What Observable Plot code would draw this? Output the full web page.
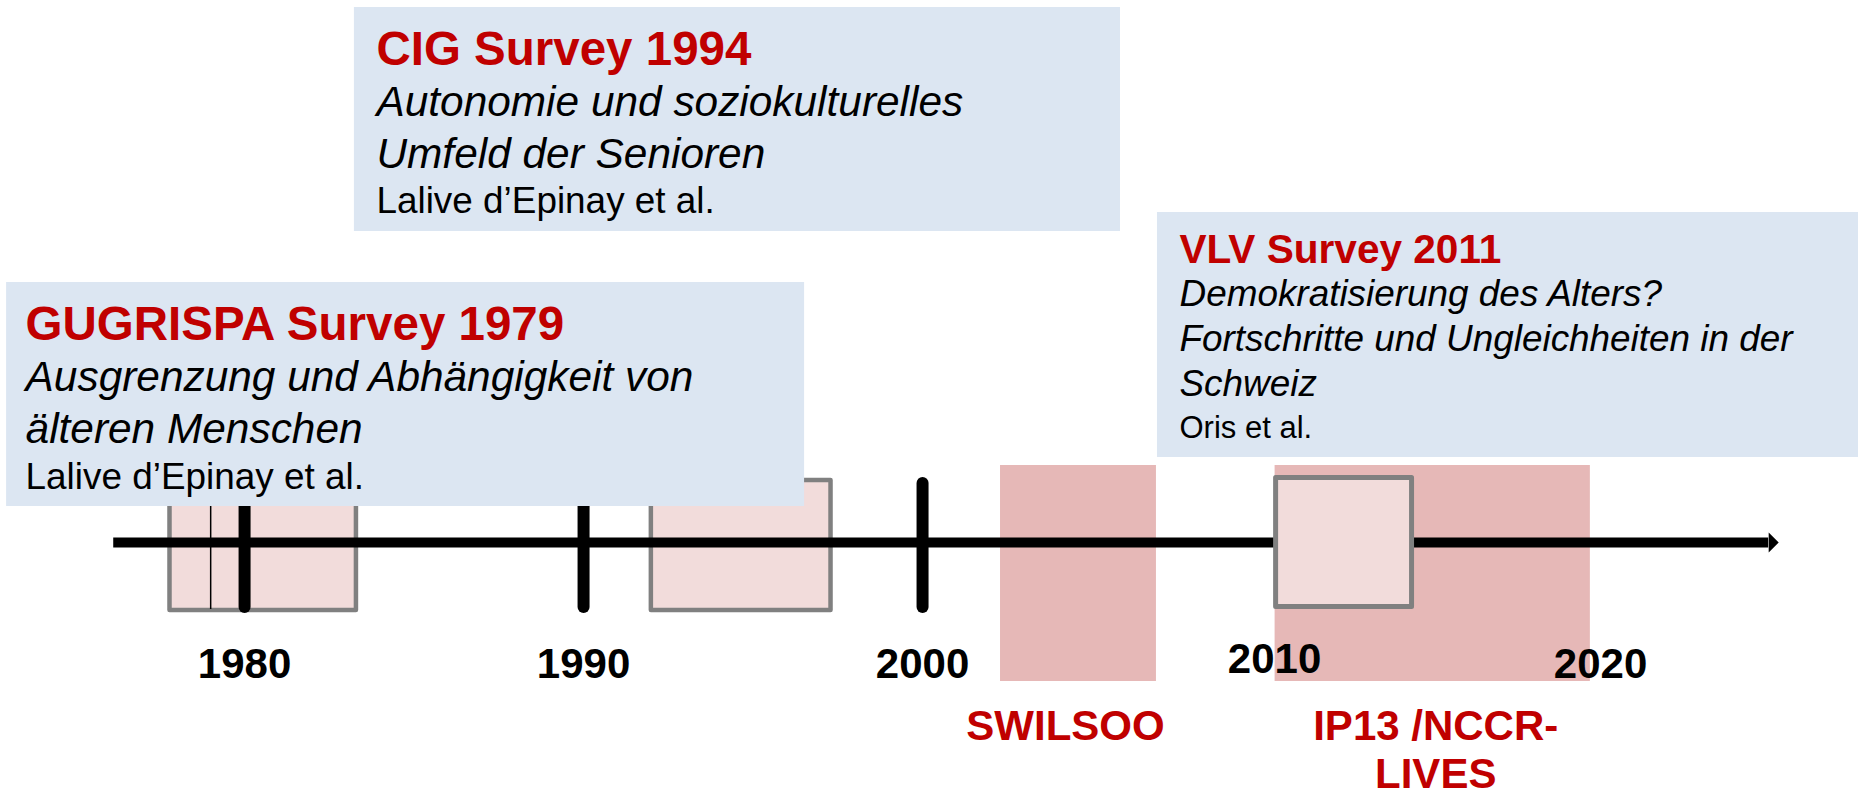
<!DOCTYPE html>
<html><head><meta charset="utf-8">
<script src="https://cdn.jsdelivr.net/npm/d3@7"></script>
<script src="https://cdn.jsdelivr.net/npm/@observablehq/plot@0.6"></script>
<style>html,body{margin:0;padding:0;background:#fff;overflow:hidden} svg{display:block}</style>
</head><body><div id="chart"></div>
<script>
// ---- data ----
const surveyTitles = ["GUGRISPA Survey 1979", "CIG Survey 1994", "VLV Survey 2011"];
const surveyTopics = [
  ["Ausgrenzung und Abhängigkeit von", "älteren Menschen"],
  ["Autonomie und soziokulturelles", "Umfeld der Senioren"],
  ["Demokratisierung des Alters?", "Fortschritte und Ungleichheiten in der", "Schweiz"]
];
const surveyAuthors = ["Lalive d’Epinay et al.", "Lalive d’Epinay et al.", "Oris et al."];
const surveyStart = [1977.8, 1992.0, 2010.43];
const surveyEnd = [1983.3, 1997.3, 2014.44];
const firstWaveYear = [1979];
const projectNames = ["SWILSOO", "IP13 /NCCR-\nLIVES"];
const projectStart = [2002.3, 2010.4];
const projectEnd = [2006.9, 2019.7];
const tickYears = [1980, 1990, 2000];
const tickLabels = ["1980", "1990", "2000", "2010", "2020"];

// ---- layout (annotation placement) ----
const AXIS_Y = 542;
const callouts = [
  {x1: 1972.98, x2: 1996.52, y1: 282, y2: 506, tx: 1973.54, sizes: [47.5, 42.4, 36.9], base: [339, 390, 442], author: 488},
  {x1: 1983.24, x2: 2005.84, y1: 7, y2: 231, tx: 1983.89, sizes: [47.5, 42.4, 36.9], base: [64, 115, 167], author: 212},
  {x1: 2006.93, x2: 2027.7, y1: 212, y2: 457, tx: 2007.58, sizes: [40.6, 36.9, 31], base: [262, 305, 350, 395], author: 437}
];
const projectLabelDx = [-13, 3];

const surveys = surveyTitles.map((t, i) => ({title: t, start: surveyStart[i], end: surveyEnd[i]}));
const projects = projectNames.map((n, i) => ({name: n, start: projectStart[i], end: projectEnd[i]}));

const lines = [];
callouts.forEach((c, i) => {
  lines.push({kind: "title", x: c.tx, y: c.base[0], text: surveyTitles[i], size: c.sizes[0]});
  surveyTopics[i].forEach((t, j) => lines.push({kind: "topic", x: c.tx, y: c.base[j + 1], text: t, size: c.sizes[1]}));
  lines.push({kind: "author", x: c.tx, y: c.author, text: surveyAuthors[i], size: c.sizes[2]});
});
const boxes = callouts.map((c, i) => ({...c, name: surveyTitles[i]}));

const GRAY = "#808080", LIGHT = "#f2dcdb", DARK = "#e6b8b7", BLUE = "#dce6f2", RED = "#c00000";

// small arrowhead: base at the dot position, tip 10px to the right
const arrowHead = {draw(ctx) { ctx.moveTo(10, 0); ctx.lineTo(0, -10); ctx.lineTo(0, 10); ctx.closePath(); }};

const FONT = "'Liberation Sans', Arial, Helvetica, sans-serif";
const labelMark = (data, opts) => Plot.text(data, {x: d => +d, y: 677, text: d => d, fontSize: 42, fontWeight: "bold", fill: "black", lineAnchor: "bottom", ...opts});

const chart = Plot.plot({
  width: 1858, height: 795, margin: 0,
  x: {domain: [1972.80, 2027.61], range: [0, 1858], axis: null},
  y: {domain: [0, 795], range: [0, 795], axis: null},
  style: {fontFamily: FONT, background: "white"},
  marks: [
    // research projects (dark pink)
    Plot.rect(projects, {x1: "start", x2: "end", y1: 465, y2: 681, fill: DARK}),
    // survey fieldwork boxes 1 & 2 (behind axis)
    Plot.rect(surveys.slice(0, 2), {x1: "start", x2: "end", y1: 480, y2: 610, fill: LIGHT, stroke: GRAY, strokeWidth: 4.5, strokeLinejoin: "round"}),
    // timeline axis
    Plot.ruleY([AXIS_Y], {x1: 1976.14, x2: 2024.96, stroke: "black", strokeWidth: 10}),
    Plot.dot([2024.96], {x: d => d, y: AXIS_Y, symbol: arrowHead, fill: "black", stroke: "none"}),
    // decade ticks
    Plot.ruleX(tickYears, {x: d => d, y1: 483, y2: 607, stroke: "black", strokeWidth: 12, strokeLinecap: "round"}),
    Plot.ruleX(firstWaveYear, {x: d => d, y1: 482, y2: 609, stroke: "black", strokeWidth: 1.5}),
    // survey box 3 (in front of axis)
    Plot.rect(surveys.slice(2), {x1: "start", x2: "end", y1: 477.5, y2: 606.5, fill: LIGHT, stroke: GRAY, strokeWidth: 5, strokeLinejoin: "round"}),
    // callout boxes
    Plot.rect(boxes, {x1: "x1", x2: "x2", y1: "y1", y2: "y2", fill: BLUE}),
    Plot.text(lines.filter(d => d.kind === "title"), {x: "x", y: "y", text: "text", fontSize: d => d.size, fontWeight: "bold", fill: RED, textAnchor: "start", lineAnchor: "bottom"}),
    Plot.text(lines.filter(d => d.kind === "topic"), {x: "x", y: "y", text: "text", fontSize: d => d.size, fontStyle: "italic", fill: "black", textAnchor: "start", lineAnchor: "bottom"}),
    Plot.text(lines.filter(d => d.kind === "author"), {x: "x", y: "y", text: "text", fontSize: d => d.size, fill: "black", textAnchor: "start", lineAnchor: "bottom"}),
    // tick labels
    labelMark(tickLabels.filter(d => d !== "2010")),
    labelMark(tickLabels.filter(d => d === "2010"), {dx: 13, dy: -5}),
    // project labels
    ...projects.map((p, i) => Plot.text([p], {x: d => (d.start + d.end) / 2, y: 706, dx: projectLabelDx[i], text: "name", fontSize: 42, fontWeight: "bold", fill: RED, lineAnchor: "top", lineHeight: 1.13}))
  ]
});
document.getElementById("chart").appendChild(chart);
</script>
</body></html>
